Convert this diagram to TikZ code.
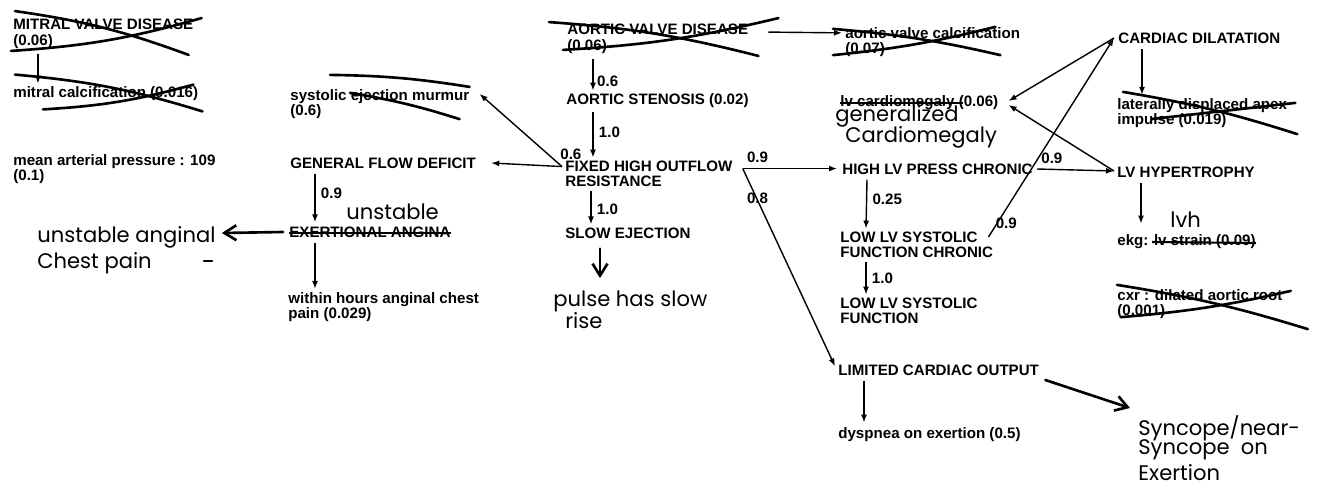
\documentclass[tikz,border=0pt]{standalone}
\usepackage{fontspec}
\setmainfont{Liberation Sans}
\newfontfamily\handfont{Poppins}
\usetikzlibrary{arrows.meta,calc}
\newcommand\prt{\fontsize{8.6}{8.8}\selectfont\bfseries}
\newcommand\hnd{\handfont\fontsize{12}{13}\selectfont}

\begin{document}
\begin{tikzpicture}[x=0.02cm, y=-0.02cm,
  box/.style={font=\prt, inner sep=0pt, anchor=west, align=left},
  wt/.style={font=\prt, inner sep=0pt},
  note/.style={font=\hnd, inner sep=0pt, anchor=west, align=left},
  lnk/.style={-{Latex[length=1.6mm,width=1.2mm]}, line width=0.8pt},
  pen/.style={-{Straight Barb[length=2.4mm,width=3mm]}, line width=1.5pt, line cap=round},
  xout/.style={line width=1.5pt, line cap=round},
  strk/.style={line width=1.2pt}]

\useasboundingbox (0,0) rectangle (1322,487);

% printed nodes
\node[box] (mvd) at (13,34) {MITRAL VALVE DISEASE\\(0.06)};
\node[box] (mcal) at (13,94) {mitral calcification (0.016)};
\node[box] (map) at (13,169) {mean arterial pressure : 109\\(0.1)};
\node[box] (sem) at (290,104) {systolic ejection murmur\\(0.6)};
\node[box] (gfd) at (290,163) {GENERAL FLOW DEFICIT};
\node[box] (exa) at (289,232) {EXERTIONAL ANGINA};
\node[box] (whp) at (288,307) {within hours anginal chest\\pain (0.029)};
\node[box] (avd) at (567,39) {AORTIC VALVE DISEASE\\(0.06)};
\node[box] (ast) at (566,101) {AORTIC STENOSIS (0.02)};
\node[box] (fho) at (565,174) {FIXED HIGH OUTFLOW\\RESISTANCE};
\node[box] (sej) at (565,233) {SLOW EJECTION};
\node[box] (avc) at (845,42) {aortic valve calcification\\(0.07)};
\node[box] (lvc) at (840,103) {lv cardiomegaly (0.06)};
\node[box] (hlv) at (842,169) {HIGH LV PRESS CHRONIC};
\node[box] (lsc) at (840,245) {LOW LV SYSTOLIC\\FUNCTION CHRONIC};
\node[box] (lsf) at (840,311) {LOW LV SYSTOLIC\\FUNCTION};
\node[box] (lco) at (838,370) {LIMITED CARDIAC OUTPUT};
\node[box] (doe) at (838,435) {dyspnea on exertion (0.5)};
\node[box] (cdl) at (1118,38) {CARDIAC DILATATION};
\node[box] (ldi) at (1117,113) {laterally displaced apex\\impulse (0.019)};
\node[box] (lvh) at (1117,172) {LV HYPERTROPHY};
\node[box] (ekg) at (1117,242) {ekg: lv strain (0.09)};
\node[box] (cxr) at (1117,304) {cxr : dilated aortic root\\(0.001)};

% printed links
\draw[lnk] ($(mvd.south west)+(25,5)$) -- ($(mcal.north west)+(25,-3)$);
\draw[lnk] ($(avd.north east)+(20,8)$) -- ($(avc.north west)+(-3,6)$);
\draw[lnk] ($(avd.south west)+(26,5)$) -- ($(ast.north west)+(27,-3)$) node[wt,pos=0.7,right=2pt] (w1) {0.6};
\draw[lnk] ($(ast.south west)+(27,4)$) -- ($(fho.north west)+(28,-3)$) node[wt,pos=0.45,right=3pt] (w2) {1.0};
\draw[lnk] ($(fho.north west)+(-3,6)$) -- ($(gfd.east)+(15,0)$);
\draw[lnk] ($(fho.north west)+(-3,6)$) -- ($(sem.north east)+(10,5)$);
\node[wt, anchor=south west] (w3) at ($(fho.north west)+(-5,-1)$) {0.6};
\draw[lnk] ($(gfd.south west)+(25,5)$) -- ($(exa.north west)+(26,-4)$) node[wt,pos=0.4,right=3pt] (w4) {0.9};
\draw[lnk] ($(exa.south west)+(26,5)$) -- ($(whp.north west)+(27,-3)$);
\draw[lnk] ($(fho.south west)+(26,4)$) -- ($(sej.north west)+(26,-3)$) node[wt,pos=0.55,right=3pt] (w5) {1.0};
\coordinate (fr) at ($(fho.north east)+(10,8)$);
\draw[lnk] (fr) -- ($(fr -| hlv.west)+(-5,0)$);
\node[wt, anchor=south west] (w6) at ($(fr)+(4,-6)$) {0.9};
\draw[lnk] (fr) -- ($(lco.north west)+(-3,2)$);
\node[wt, anchor=north west] (w7) at ($(fr)+(4,24)$) {0.8};
\draw[lnk] ($(hlv.south west)+(25,5)$) -- ($(lsc.north west)+(26,-3)$) node[wt,pos=0.4,right=3pt] (w8) {0.25};
\draw[lnk] ($(lsc.south west)+(26,4)$) -- ($(lsf.north west)+(26,-3)$) node[wt,pos=0.5,right=3pt] (w9) {1.0};
\draw[lnk] ($(lco.south west)+(26,5)$) -- ($(doe.north west)+(26,-5)$);
\draw[lnk] ($(hlv.east)+(4,0)$) -- ($(lvh.west)+(-3,-1)$);
\node[wt, anchor=south west] (w10) at ($(hlv.east)+(8,-5)$) {0.9};
\draw[lnk] ($(lsc.east)+(-5,-8)$) -- ($(cdl.west)+(-4,0)$);
\node[wt, anchor=west] (w11) at ($(lsc.east)+(2,-22)$) {0.9};
\draw[lnk] ($(cdl.west)+(-4,0)$) -- ($(lvc.east)+(10,-2)$);
\draw[lnk] ($(lvh.west)+(-3,-1)$) -- ($(lvc.east)+(10,2)$);
\draw[lnk] ($(cdl.south west)+(24,5)$) -- ($(ldi.north west)+(25,-3)$);
\draw[lnk] ($(lvh.south west)+(24,5)$) -- ($(ekg.north west)+(24,-11)$);

% crossings out
\draw[xout] ($(mvd.north west)+(2,-8)$) to[bend left=6] ($(mvd.south east)+(-5,6)$);
\draw[xout] ($(mvd.south west)+(-2,2)$) to[bend right=6] ($(mvd.north east)+(8,-1)$);
\draw[xout] ($(mcal.north west)+(2,-12)$) to[bend left=6] ($(mcal.south east)+(4,10)$);
\draw[xout] ($(mcal.south west)+(30,8)$) to[bend right=6] ($(mcal.north east)+(-5,-2)$);
\draw[xout] ($(sem.north west)+(40,-14)$) to[bend left=4] ($(sem.north east)+(0,-2)$);
\draw[xout] ($(sem.north west)+(60,4)$) to[bend left=4] ($(sem.south east)+(-10,0)$);
\draw[xout] ($(avd.north west)+(-18,-2)$) to[bend left=5] ($(avd.south east)+(10,2)$);
\draw[xout] ($(avd.south west)+(-4,-4)$) to[bend right=5] ($(avd.north east)+(30,-6)$);
\draw[xout] ($(avc.north west)+(-12,2)$) to[bend left=4] ($(avc.south east)+(-20,-2)$);
\draw[xout] ($(avc.south west)+(-12,-2)$) to[bend right=4] ($(avc.north east)+(-25,0)$);
\draw[xout] ($(ldi.north west)+(6,-6)$) to[bend left=4] ($(ldi.south east)+(10,6)$);
\draw[xout] ($(ldi.west)+(35,6)$) -- ($(ldi.north east)+(8,5)$);
\draw[xout] ($(cxr.north west)+(0,-4)$) to[bend left=4] ($(cxr.south east)+(25,10)$);
\draw[xout] ($(cxr.south west)+(4,-2)$) to[bend right=4] ($(cxr.north east)+(8,2)$);
\draw[strk] (lvc.west) -- ($(lvc.west)+(123,0)$);
\draw[strk] ($(ekg.west)+(35,0)$) -- ($(ekg.east)+(0,1)$);
\draw[strk] ($(exa.west)+(0,1)$) -- ($(exa.east)+(0,1)$);

% handwritten notes
\node[note] (h1) at (346,212) {unstable};
\node[note] (h2) at (37,237) {unstable anginal};
\node[note] (h3) at (37,263) {Chest pain};
\node[note] (h4) at (553,301) {pulse has slow};
\node[note] (h5) at (565,321) {rise};
\node[note] (h6) at (835,116) {generalized};
\node[note] (h7) at (845,137) {Cardiomegaly};
\node[note] (h8) at (1170,220) {lvh};
\node[note] (h9) at (1138,428) {Syncope/near-};
\node[note] (h10) at (1138,450) {Syncope \ on};
\node[note] (h11) at (1138,473) {Exertion};

\draw[pen] ($(exa.west)+(-6,0)$) -- ($(h2.east)+(6,-4)$);
\draw[line width=1.4pt, line cap=round] ($(h3.east)+(52,-2)$) -- ($(h3.east)+(60,-2)$);
\draw[pen] ($(sej.south west)+(35,10)$) -- ($(h4.north west)+(47,-12)$);
\draw[pen] ($(lco.east)+(6,10)$) -- ($(h9.west)+(-8,-20)$);
\end{tikzpicture}
\end{document}
